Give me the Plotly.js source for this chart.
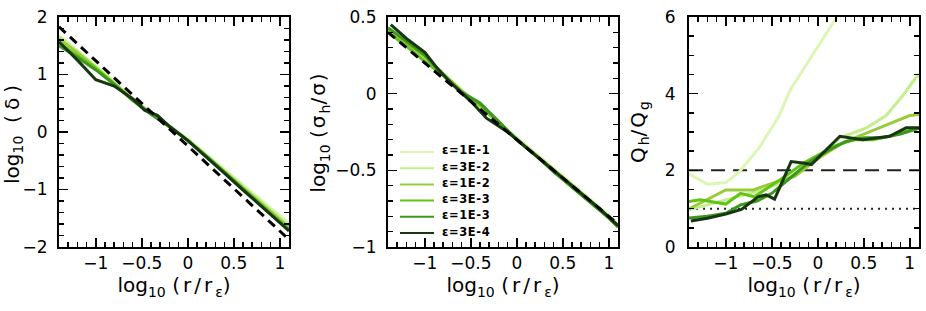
<!DOCTYPE html>
<html>
<head>
<meta charset="utf-8">
<script src="https://cdn.plot.ly/plotly-3.0.1.min.js"></script>
<style>html,body{margin:0;padding:0;background:#fff;}#chart{width:926px;height:311px;}</style>
</head>
<body>
<div id="chart"></div>
<script>
// ---- labels ----
const seriesNames = ['ε=1E-1','ε=3E-2','ε=1E-2','ε=3E-3','ε=1E-3','ε=3E-4'];
const xTickVals = [-1,-0.5,0,0.5,1];
const xTickText = ['−1','−0.5','0','0.5','1'];
const dTickVals = [-2,-1,0,1,2];
const dTickText = ['−2','−1','0','1','2'];
const sTickVals = [-1,-0.5,0,0.5];
const sTickText = ['−1','−0.5','0','0.5'];
const qTickVals = [0,2,4,6];
const qTickText = ['0','2','4','6'];

// ---- panel 1: log10(delta) ----
const xGrid = [-1.4,-1.2,-1.0,-0.8,-0.6,-0.4,-0.2,0,0.2,0.4,0.6,0.8,1.0,1.1];
const d_1e1 = [1.68,1.42,1.15,0.87,0.58,0.33,0.10,-0.13,-0.39,-0.66,-0.93,-1.19,-1.45,-1.58];
const d_3e2 = [1.66,1.40,1.14,0.86,0.57,0.33,0.10,-0.13,-0.40,-0.67,-0.95,-1.22,-1.49,-1.62];
const d_1e2 = [1.62,1.38,1.12,0.84,0.56,0.32,0.10,-0.14,-0.41,-0.69,-0.97,-1.25,-1.53,-1.66];
const d_3e3 = [1.55,1.33,1.10,0.84,0.56,0.32,0.09,-0.14,-0.42,-0.70,-0.99,-1.27,-1.56,-1.69];
const d_1e3 = [1.50,1.30,1.08,0.83,0.55,0.31,0.09,-0.15,-0.42,-0.71,-1.00,-1.29,-1.58,-1.71];
const d_3e4_x = [-1.4,-1.2,-1.0,-0.8,-0.6,-0.47,-0.33,-0.2,0,0.2,0.4,0.6,0.8,1.0,1.1];
const d_3e4 = [1.57,1.25,0.91,0.80,0.58,0.38,0.29,0.10,-0.15,-0.43,-0.72,-1.01,-1.30,-1.59,-1.72];
const refX = [-1.4,1.1];
const d_ref = [1.83,-1.87];

// ---- panel 2: log10(sigma_h/sigma) ----
const s_1e1 = [0.41,0.31,0.22,0.12,0.02,-0.09,-0.19,-0.29,-0.39,-0.49,-0.59,-0.69,-0.79,-0.85];
const s_3e2 = [0.42,0.32,0.23,0.13,0.02,-0.08,-0.19,-0.29,-0.39,-0.49,-0.59,-0.70,-0.80,-0.86];
const s_1e2 = [0.42,0.33,0.24,0.13,0.02,-0.08,-0.19,-0.30,-0.40,-0.50,-0.60,-0.70,-0.81,-0.86];
const s_3e3 = [0.40,0.31,0.21,0.12,0.01,-0.07,-0.18,-0.30,-0.40,-0.50,-0.61,-0.71,-0.81,-0.87];
const s_1e3 = [0.43,0.34,0.25,0.12,0.01,-0.06,-0.18,-0.30,-0.40,-0.51,-0.61,-0.71,-0.81,-0.87];
const s_3e4_x = [-1.37,-1.2,-1.0,-0.87,-0.7,-0.5,-0.33,-0.1,0.1,0.3,0.5,0.7,0.9,1.1];
const s_3e4 = [0.45,0.36,0.27,0.17,0.06,-0.05,-0.16,-0.25,-0.35,-0.45,-0.55,-0.65,-0.75,-0.86];
const s_ref = [0.40,-0.85];

// ---- panel 3: Q_h/Q_g ----
const q_1e1_x = [-1.42,-1.2,-1.0,-0.85,-0.64,-0.42,-0.3,-0.12,0.1,0.3];
const q_1e1 = [1.93,1.64,1.68,1.97,2.58,3.42,4.1,4.78,5.6,6.35];
const q_3e2_x = [-1.42,-1.2,-1.0,-0.8,-0.6,-0.4,-0.2,0,0.24,0.53,0.74,0.92,1.1];
const q_3e2 = [0.96,1.1,1.23,1.36,1.49,1.68,1.98,2.35,2.85,3.11,3.42,3.94,4.52];
const q_1e2_x = [-1.42,-1.2,-1.0,-0.7,-0.45,-0.25,0,0.27,0.53,0.81,1.0,1.1];
const q_1e2 = [0.97,1.25,1.49,1.49,1.7,1.84,2.3,2.72,2.98,3.24,3.43,3.46];
const q_3e3_x = [-1.42,-1.28,-1.0,-0.84,-0.69,-0.55,-0.35,-0.15,0,0.2,0.4,0.6,0.8,1.0,1.1];
const q_3e3 = [1.18,1.23,1.12,1.4,1.31,1.53,1.85,2.2,2.4,2.65,2.8,2.8,2.9,3.05,3.1];
const q_1e3_x = [-1.42,-1.2,-1.0,-0.84,-0.66,-0.5,-0.3,-0.1,0.1,0.3,0.5,0.7,0.9,1.1];
const q_1e3 = [0.75,0.8,0.88,1.1,1.2,1.4,1.8,2.2,2.5,2.75,2.85,2.85,2.95,3.1];
const q_3e4_x = [-1.38,-1.2,-1.0,-0.83,-0.65,-0.56,-0.47,-0.29,-0.16,-0.07,0.24,0.49,0.78,0.96,1.1];
const q_3e4 = [0.68,0.75,0.86,0.98,1.31,1.36,1.25,2.23,2.19,2.15,2.89,2.8,2.89,3.11,3.11];
const q_two = [2,2];
const q_one = [1,1];

const colors = ['#dbf7b4','#c3ef8c','#9acb3a','#62c414','#3c981c','#183612'];
const FONT = 'DejaVu Sans, Verdana, sans-serif';
const W = 926, H = 311;

const dX = [xGrid,xGrid,xGrid,xGrid,xGrid,d_3e4_x];
const dY = [d_1e1,d_3e2,d_1e2,d_3e3,d_1e3,d_3e4];
const sX = [xGrid,xGrid,xGrid,xGrid,xGrid,s_3e4_x];
const sY = [s_1e1,s_3e2,s_1e2,s_3e3,s_1e3,s_3e4];
const qX = [q_1e1_x,q_3e2_x,q_1e2_x,q_3e3_x,q_1e3_x,q_3e4_x];
const qY = [q_1e1,q_3e2,q_1e2,q_3e3,q_1e3,q_3e4];

const traces = [];
for (let i=0;i<6;i++){
  traces.push({x:dX[i],y:dY[i],xaxis:'x',yaxis:'y',mode:'lines',line:{color:colors[i],width:3},name:seriesNames[i]});
}
traces.push({x:refX,y:d_ref,xaxis:'x',yaxis:'y',mode:'lines',line:{color:'#000',width:3,dash:'9px,6px'}});
for (let i=0;i<6;i++){
  traces.push({x:sX[i],y:sY[i],xaxis:'x2',yaxis:'y2',mode:'lines',line:{color:colors[i],width:3},name:seriesNames[i]});
}
traces.push({x:refX,y:s_ref,xaxis:'x2',yaxis:'y2',mode:'lines',line:{color:'#000',width:3,dash:'9px,6px'}});
traces.push({x:refX,y:q_two,xaxis:'x3',yaxis:'y3',mode:'lines',line:{color:'#222',width:2,dash:'14px,8px'}});
traces.push({x:refX,y:q_one,xaxis:'x3',yaxis:'y3',mode:'lines',line:{color:'#222',width:2,dash:'2px,5px'}});
for (let i=0;i<6;i++){
  traces.push({x:qX[i],y:qY[i],xaxis:'x3',yaxis:'y3',mode:'lines',line:{color:colors[i],width:3},name:seriesNames[i]});
}

// hand-drawn legend (compact rows, inside panel 2)
const shapes = [], annotations = [];
const legLeft = 400, legRight = 434, legText = 440, legTop = 152, legStep = 16.2;
for (let i=0;i<seriesNames.length;i++){
  const yp = legTop + i*legStep;
  shapes.push({type:'line', xref:'paper', yref:'paper', x0:legLeft/W, x1:legRight/W, y0:1-yp/H, y1:1-yp/H,
    line:{color:colors[i], width:2}});
  annotations.push({xref:'paper', yref:'paper', x:legText/W, y:1-(yp-1.5)/H, xanchor:'left', yanchor:'middle',
    text:'<b><span style="letter-spacing:0.6px">'+seriesNames[i]+'</span></b>', showarrow:false,
    font:{family:FONT,size:11.5,color:'#000'}});
}

function ax(extra){
  return Object.assign({
    showgrid:false, zeroline:false, showline:true, linewidth:2, linecolor:'#000', mirror:'ticks',
    ticks:'inside', ticklen:9, tickwidth:1.5, tickcolor:'#000',
    tickfont:{family:FONT,size:17,color:'#000'}, tickmode:'array',
    fixedrange:true
  }, extra);
}
const minorX = {dtick:0.1,tick0:0,ticklen:5,tickwidth:1.5,tickcolor:'#000',ticks:'inside'};
const TF = {family:FONT,size:20,color:'#000'};
const xTitle = {text:'log<sub>10</sub> <span style="letter-spacing:3px">(r/r</span><sub>ε</sub>)', font:TF, standoff:4};
const yT = 0.2058, yB = 0.9453;

const layout = {
  width:W, height:H, margin:{l:0,r:0,t:0,b:0}, showlegend:false,
  paper_bgcolor:'#fff', plot_bgcolor:'#fff', font:{family:FONT,color:'#000'},
  xaxis: ax({domain:[0.0637,0.3121], anchor:'y', range:[-1.4,1.1], tickvals:xTickVals, ticktext:xTickText,
    minor:minorX, title:xTitle, ticklabelstandoff:0}),
  yaxis: ax({domain:[yT,yB], anchor:'x', range:[-2,2], tickvals:dTickVals, ticktext:dTickText,
    minor:{dtick:0.2,tick0:0,ticklen:5,tickwidth:1.5,tickcolor:'#000',ticks:'inside'}, ticklabelstandoff:6,
    title:{text:'log<sub>10</sub>\u00a0\u00a0<span style="letter-spacing:5px">(δ)</span>', font:TF, standoff:8}}),
  xaxis2: ax({domain:[0.4190,0.6674], anchor:'y2', range:[-1.4,1.1], tickvals:xTickVals, ticktext:xTickText,
    minor:minorX, title:xTitle, ticklabelstandoff:0}),
  yaxis2: ax({domain:[yT,yB], anchor:'x2', range:[-1,0.5], tickvals:sTickVals, ticktext:sTickText,
    minor:{dtick:0.1,tick0:0,ticklen:5,tickwidth:1.5,tickcolor:'#000',ticks:'inside'}, ticklabelstandoff:6,
    title:{text:'log<sub>10</sub> <span style="letter-spacing:2px">(σ</span><sub>h</sub><span style="letter-spacing:2px">/σ)</span>', font:TF, standoff:4}}),
  xaxis3: ax({domain:[0.7441,0.9924], anchor:'y3', range:[-1.4,1.1], tickvals:xTickVals, ticktext:xTickText,
    minor:minorX, title:xTitle, ticklabelstandoff:0}),
  yaxis3: ax({domain:[yT,yB], anchor:'x3', range:[0,6], tickvals:qTickVals, ticktext:qTickText,
    minor:{dtick:0.5,tick0:0,ticklen:5,tickwidth:1.5,tickcolor:'#000',ticks:'inside'}, ticklabelstandoff:8,
    title:{text:'<span style="letter-spacing:2px">Q</span><sub>h</sub><span style="letter-spacing:2px">/Q</span><sub>g</sub>', font:TF, standoff:14}}),
  shapes:shapes, annotations:annotations
};

Plotly.newPlot('chart', traces, layout, {staticPlot:true, displayModeBar:false});
</script>
</body>
</html>
